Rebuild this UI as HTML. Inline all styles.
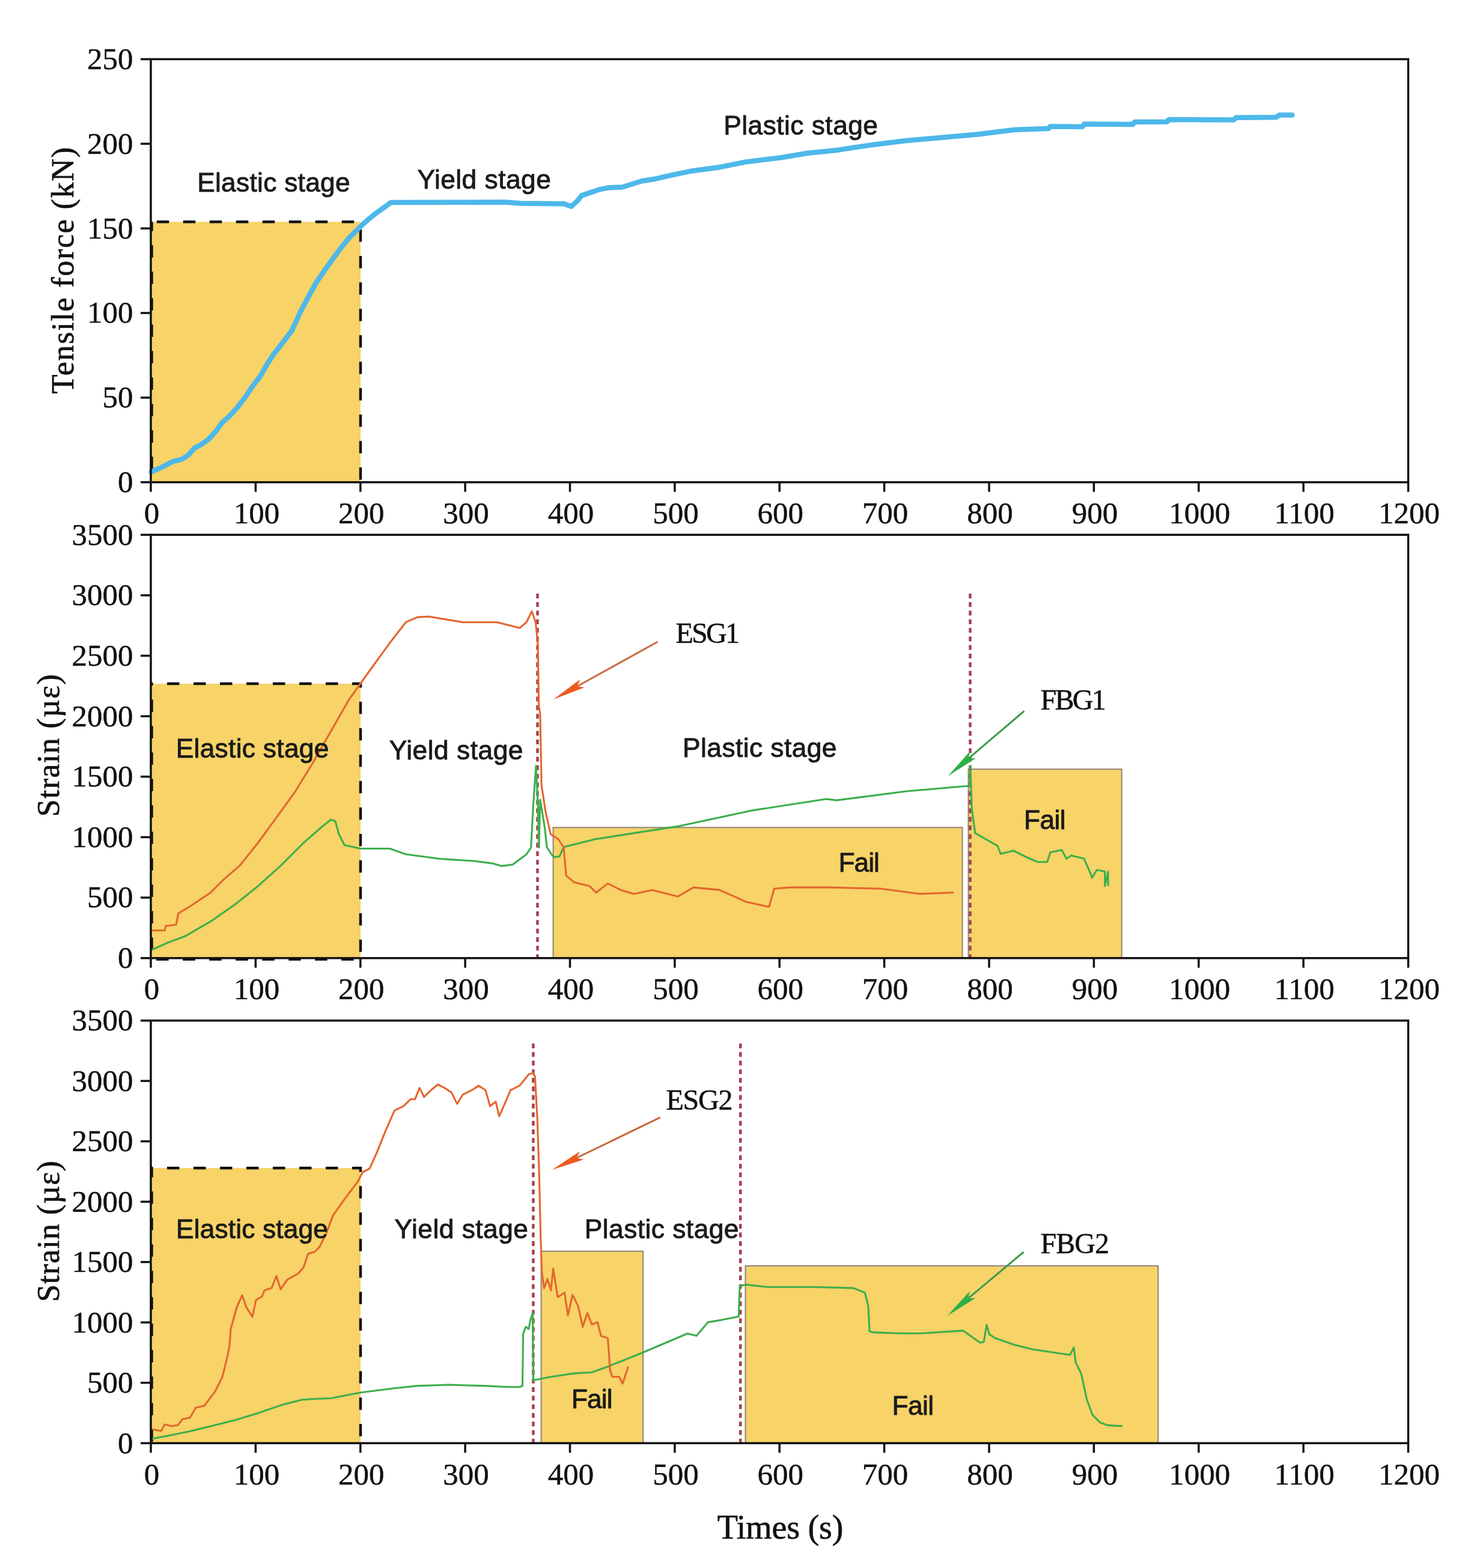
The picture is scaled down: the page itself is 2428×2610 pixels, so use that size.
<!DOCTYPE html>
<html><head><meta charset="utf-8"><title>Tensile force and strain vs time</title>
<style>html,body{margin:0;padding:0;background:#fff;}svg{display:block;}</style></head>
<body><svg width="2428" height="2610" viewBox="0 0 2428 2610">
<rect width="2428" height="2610" fill="#fff"/>
<rect x="251" y="369.3" width="349.0" height="433.4" fill="#F7D368"/>
<rect x="251" y="1138.1" width="349.0" height="456.7" fill="#F7D368"/>
<rect x="251" y="1944.2" width="349.0" height="458.0" fill="#F7D368"/>
<rect x="920.6" y="1377.4" width="680.9" height="217.4" fill="#F7D368" stroke="#8F8475" stroke-width="2"/>
<rect x="1611.5" y="1280.3" width="255.2" height="314.5" fill="#F7D368" stroke="#8F8475" stroke-width="2"/>
<rect x="900.6" y="2082.7" width="169.6" height="319.5" fill="#F7D368" stroke="#8F8475" stroke-width="2"/>
<rect x="1240.5" y="2107.1" width="686.8" height="295.1" fill="#F7D368" stroke="#8F8475" stroke-width="2"/>
<line x1="252.5" y1="369.3" x2="252.5" y2="802.7" stroke="#111" stroke-width="4.5" stroke-dasharray="20.5 23.5" stroke-dashoffset="5"/>
<path d="M251,369.3 L600,369.3 L600,802.7" fill="none" stroke="#111" stroke-width="4.5" stroke-dasharray="20.5 23.5" stroke-dashoffset="34.2"/>
<path d="M251,1138.1 L600,1138.1 L600,1596.8 L252.5,1596.8 L252.5,1138.1" fill="none" stroke="#111" stroke-width="4.5" stroke-dasharray="20.5 23.5" stroke-dashoffset="17"/>
<line x1="252.5" y1="1944.2" x2="252.5" y2="2402.2" stroke="#111" stroke-width="4.5" stroke-dasharray="20.5 23.5" stroke-dashoffset="5"/>
<path d="M251,1944.2 L600,1944.2 L600,2402.2" fill="none" stroke="#111" stroke-width="4.5" stroke-dasharray="20.5 23.5" stroke-dashoffset="17"/>
<line x1="894.5" y1="988" x2="894.5" y2="1594.8" stroke="#A8404F" stroke-width="4.5" stroke-dasharray="8 6.3"/>
<line x1="1614.5" y1="988" x2="1614.5" y2="1594.8" stroke="#A8404F" stroke-width="4.5" stroke-dasharray="8 6.3"/>
<line x1="887.4" y1="1737" x2="887.4" y2="2402.2" stroke="#A8404F" stroke-width="4.5" stroke-dasharray="8 6.3"/>
<line x1="1232.2" y1="1737" x2="1232.2" y2="2402.2" stroke="#A8404F" stroke-width="4.5" stroke-dasharray="8 6.3"/>
<polyline points="251.5,785.5 270.4,777.3 287.0,768.4 302.2,764.6 312.4,758.3 323.8,745.6 334.0,740.5 346.7,731.6 359.4,717.6 369.6,703.6 382.3,692.2 395.0,678.2 407.7,661.7 420.4,642.6 433.1,626.1 443.3,608.3 454.7,590.5 468.7,572.7 485.7,550.2 500.1,518.8 513.2,493.9 526.2,470.4 540.6,449.5 553.7,431.2 568.1,411.5 581.2,395.8 595.5,381.5 602.1,374.9 613.8,364.5 626.9,354.0 640.0,344.8 650.5,337.0 840.0,336.6 866.0,338.4 938.6,339.2 950.8,343.6 961.1,334.0 968.1,325.4 978.5,321.9 995.8,315.9 1013.0,312.4 1035.6,311.5 1054.6,305.5 1068.5,301.2 1091.0,297.7 1116.9,291.6 1150.0,284.8 1194.6,278.8 1239.2,269.9 1298.7,262.5 1343.3,255.0 1388.0,250.6 1447.4,241.6 1506.9,234.2 1566.4,229.1 1625.9,223.8 1688.1,216.0 1744.9,214.0 1747.6,210.6 1801.7,210.9 1804.4,206.5 1885.5,206.9 1888.2,203.0 1942.3,202.8 1945.0,199.0 2053.2,199.5 2057.2,195.7 2123.5,195.2 2128.9,191.6 2150.5,191.6" fill="none" stroke="#4DB8EA" stroke-width="8.5" stroke-linejoin="round" stroke-linecap="round"/>
<polyline points="253.0,1581.0 277.9,1569.6 308.2,1558.3 353.6,1531.8 391.5,1505.2 429.3,1475.0 467.2,1440.9 505.1,1403.0 535.4,1376.5 550.5,1364.4 558.1,1367.0 563.7,1387.9 573.2,1406.8 599.7,1412.5 648.9,1412.5 675.4,1422.0 732.2,1429.5 789.0,1433.3 819.3,1437.1 834.5,1441.6 853.4,1439.0 876.1,1422.0 883.7,1410.6 887.5,1338.6 892.0,1274.3 895.1,1338.6 897.0,1410.6 898.9,1331.0 906.4,1376.5 910.0,1410.0 917.8,1422.0 922.0,1427.0 931.4,1425.2 937.9,1410.0 989.8,1397.0 1128.3,1375.4 1249.4,1349.4 1374.9,1330.0 1392.2,1332.1 1509.1,1317.0 1610.8,1308.3 1614.1,1308.0 1614.7,1274.7 1617.3,1346.7 1622.7,1386.7 1660.0,1408.0 1665.3,1421.3 1686.7,1416.0 1708.0,1426.7 1726.7,1434.7 1742.7,1434.7 1748.0,1418.7 1766.7,1414.7 1774.7,1429.3 1782.7,1424.0 1804.0,1429.3 1814.7,1453.3 1817.3,1461.3 1825.3,1448.0 1838.7,1450.7 1838.7,1474.7 1844.0,1450.7 1844.0,1474.7" fill="none" stroke="#3DAE4C" stroke-width="3.1" stroke-linejoin="round"/>
<polyline points="253.3,2394.7 277.9,2390.2 315.7,2382.6 353.6,2373.2 391.5,2363.7 429.3,2352.3 467.2,2339.1 502.0,2330.0 524.0,2328.5 550.5,2327.5 599.7,2318.0 656.5,2310.7 694.4,2306.9 747.4,2305.0 808.0,2306.9 845.8,2308.8 864.8,2308.8 869.5,2306.9 870.6,2219.8 875.1,2208.4 879.9,2212.2 882.7,2197.1 886.5,2185.7 887.6,2297.4 916.8,2291.8 954.7,2286.1 985.0,2284.2 1011.5,2274.7 1068.3,2252.0 1144.0,2219.8 1159.1,2223.6 1178.1,2200.9 1200.8,2197.1 1229.2,2191.4 1231.1,2140.3 1242.4,2138.4 1276.5,2142.2 1352.2,2142.2 1420.4,2144.1 1439.3,2151.7 1445.0,2174.4 1446.9,2216.0 1454.5,2217.9 1500.0,2219.5 1531.2,2219.5 1602.9,2214.9 1631.0,2235.1 1637.2,2233.6 1641.9,2205.5 1646.6,2221.1 1656.0,2227.3 1687.1,2238.2 1718.3,2246.0 1780.7,2255.4 1787.0,2242.9 1790.1,2267.9 1799.4,2286.6 1808.8,2330.3 1818.2,2355.2 1830.6,2367.7 1843.1,2372.4 1868.0,2373.9" fill="none" stroke="#3DAE4C" stroke-width="3.1" stroke-linejoin="round"/>
<polyline points="253.0,1548.8 274.1,1548.8 276.0,1541.2 293.0,1539.3 296.8,1520.4 315.7,1509.0 349.8,1486.3 372.5,1463.6 399.0,1440.9 429.3,1403.0 459.6,1361.4 489.9,1319.7 520.2,1270.5 550.5,1217.5 580.8,1164.5 599.7,1138.0 618.6,1111.5 648.9,1069.8 675.4,1035.7 694.4,1027.4 713.3,1026.3 770.1,1035.7 826.9,1035.7 864.8,1045.2 876.1,1035.7 885.0,1017.5 891.3,1035.7 892.5,1046.5 895.1,1073.6 896.8,1176.4 898.9,1187.2 901.1,1306.2 907.6,1349.4 916.3,1388.4 929.2,1397.0 937.9,1410.0 942.2,1457.6 955.2,1468.4 981.2,1474.9 992.0,1485.7 1011.4,1470.6 1033.1,1481.4 1054.7,1487.9 1085.0,1481.4 1128.3,1492.2 1154.2,1477.1 1197.5,1481.4 1240.8,1500.9 1279.7,1509.5 1288.4,1479.3 1314.3,1477.1 1379.3,1477.1 1465.8,1479.3 1530.7,1487.9 1587.0,1485.7" fill="none" stroke="#E4662E" stroke-width="3.1" stroke-linejoin="round"/>
<polyline points="254.0,2379.0 268.0,2382.0 274.0,2371.0 286.0,2374.0 296.0,2372.0 304.0,2362.0 316.0,2360.0 326.0,2343.0 340.0,2340.0 358.0,2316.0 370.0,2292.0 378.0,2260.0 382.0,2240.0 384.0,2212.0 394.0,2176.0 403.0,2156.0 410.0,2176.0 420.0,2192.0 426.0,2164.0 436.0,2158.0 440.0,2148.0 452.0,2144.0 460.0,2124.0 467.0,2146.0 478.0,2130.0 496.0,2120.0 505.0,2110.0 512.6,2087.3 524.0,2083.5 531.6,2075.9 542.9,2053.2 554.3,2022.9 573.2,1996.4 595.9,1966.1 603.5,1951.0 614.9,1945.3 626.2,1920.7 641.4,1882.8 656.5,1848.7 671.6,1841.2 683.0,1829.8 690.6,1829.8 698.2,1810.9 705.7,1826.0 717.1,1814.7 728.4,1805.2 739.8,1810.9 751.2,1818.4 760.6,1837.4 770.1,1822.2 785.2,1814.7 796.6,1807.1 808.0,1814.7 815.5,1841.2 825.0,1833.6 830.7,1858.2 838.2,1841.2 849.6,1814.7 864.8,1807.1 879.9,1788.2 887.3,1786.3 890.3,1791.9 894.1,1860.1 897.1,1947.2 899.8,2060.8 901.7,2117.6 905.4,2144.1 911.1,2128.9 916.8,2147.9 920.6,2111.9 928.2,2159.2 939.5,2151.7 945.2,2189.5 952.8,2155.4 962.2,2174.4 969.8,2208.4 977.4,2185.7 985.0,2204.7 994.4,2200.9 1000.1,2223.6 1011.5,2227.4 1015.2,2280.4 1019.0,2291.8 1030.4,2291.8 1036.1,2303.1 1045.5,2274.7" fill="none" stroke="#E4662E" stroke-width="3.1" stroke-linejoin="round"/>
<line x1="1094.5" y1="1068.3" x2="960.3" y2="1142.5" stroke="#C8673C" stroke-width="3"/>
<polygon points="920.8,1164.3 965.3,1131.1 960.3,1142.5 972.6,1144.3" fill="#EE5A1E"/>
<line x1="1099.0" y1="1859.8" x2="959.3" y2="1927.5" stroke="#C8673C" stroke-width="3"/>
<polygon points="918.7,1947.2 964.9,1916.5 959.3,1927.5 971.5,1930.0" fill="#EE5A1E"/>
<line x1="1704.5" y1="1183.5" x2="1611.6" y2="1262.7" stroke="#3D9A50" stroke-width="3"/>
<polygon points="1577.3,1292.0 1614.3,1250.6 1611.6,1262.7 1624.0,1262.0" fill="#2DB045"/>
<line x1="1703.5" y1="2084.0" x2="1611.0" y2="2161.3" stroke="#3D9A50" stroke-width="3"/>
<polygon points="1576.4,2190.2 1613.8,2149.2 1611.0,2161.3 1623.4,2160.7" fill="#2DB045"/>
<rect x="251.0" y="98.5" width="2092.5" height="704.2" fill="none" stroke="#111111" stroke-width="3.5"/>
<line x1="251.0" y1="802.7" x2="251.0" y2="818.7" stroke="#111111" stroke-width="3.5"/>
<text x="252.5" y="871.2" font-family="'Liberation Serif', 'Times New Roman', serif" font-size="51" text-anchor="middle" fill="#111" stroke="#111" stroke-width="0.45">0</text>
<line x1="425.4" y1="802.7" x2="425.4" y2="818.7" stroke="#111111" stroke-width="3.5"/>
<text x="426.9" y="871.2" font-family="'Liberation Serif', 'Times New Roman', serif" font-size="51" text-anchor="middle" fill="#111" stroke="#111" stroke-width="0.45">100</text>
<line x1="599.8" y1="802.7" x2="599.8" y2="818.7" stroke="#111111" stroke-width="3.5"/>
<text x="601.2" y="871.2" font-family="'Liberation Serif', 'Times New Roman', serif" font-size="51" text-anchor="middle" fill="#111" stroke="#111" stroke-width="0.45">200</text>
<line x1="774.1" y1="802.7" x2="774.1" y2="818.7" stroke="#111111" stroke-width="3.5"/>
<text x="775.6" y="871.2" font-family="'Liberation Serif', 'Times New Roman', serif" font-size="51" text-anchor="middle" fill="#111" stroke="#111" stroke-width="0.45">300</text>
<line x1="948.5" y1="802.7" x2="948.5" y2="818.7" stroke="#111111" stroke-width="3.5"/>
<text x="950.0" y="871.2" font-family="'Liberation Serif', 'Times New Roman', serif" font-size="51" text-anchor="middle" fill="#111" stroke="#111" stroke-width="0.45">400</text>
<line x1="1122.9" y1="802.7" x2="1122.9" y2="818.7" stroke="#111111" stroke-width="3.5"/>
<text x="1124.4" y="871.2" font-family="'Liberation Serif', 'Times New Roman', serif" font-size="51" text-anchor="middle" fill="#111" stroke="#111" stroke-width="0.45">500</text>
<line x1="1297.2" y1="802.7" x2="1297.2" y2="818.7" stroke="#111111" stroke-width="3.5"/>
<text x="1298.8" y="871.2" font-family="'Liberation Serif', 'Times New Roman', serif" font-size="51" text-anchor="middle" fill="#111" stroke="#111" stroke-width="0.45">600</text>
<line x1="1471.6" y1="802.7" x2="1471.6" y2="818.7" stroke="#111111" stroke-width="3.5"/>
<text x="1473.1" y="871.2" font-family="'Liberation Serif', 'Times New Roman', serif" font-size="51" text-anchor="middle" fill="#111" stroke="#111" stroke-width="0.45">700</text>
<line x1="1646.0" y1="802.7" x2="1646.0" y2="818.7" stroke="#111111" stroke-width="3.5"/>
<text x="1647.5" y="871.2" font-family="'Liberation Serif', 'Times New Roman', serif" font-size="51" text-anchor="middle" fill="#111" stroke="#111" stroke-width="0.45">800</text>
<line x1="1820.4" y1="802.7" x2="1820.4" y2="818.7" stroke="#111111" stroke-width="3.5"/>
<text x="1821.9" y="871.2" font-family="'Liberation Serif', 'Times New Roman', serif" font-size="51" text-anchor="middle" fill="#111" stroke="#111" stroke-width="0.45">900</text>
<line x1="1994.8" y1="802.7" x2="1994.8" y2="818.7" stroke="#111111" stroke-width="3.5"/>
<text x="1996.2" y="871.2" font-family="'Liberation Serif', 'Times New Roman', serif" font-size="51" text-anchor="middle" fill="#111" stroke="#111" stroke-width="0.45">1000</text>
<line x1="2169.1" y1="802.7" x2="2169.1" y2="818.7" stroke="#111111" stroke-width="3.5"/>
<text x="2170.6" y="871.2" font-family="'Liberation Serif', 'Times New Roman', serif" font-size="51" text-anchor="middle" fill="#111" stroke="#111" stroke-width="0.45">1100</text>
<line x1="2343.5" y1="802.7" x2="2343.5" y2="818.7" stroke="#111111" stroke-width="3.5"/>
<text x="2345.0" y="871.2" font-family="'Liberation Serif', 'Times New Roman', serif" font-size="51" text-anchor="middle" fill="#111" stroke="#111" stroke-width="0.45">1200</text>
<line x1="234.0" y1="802.7" x2="251.0" y2="802.7" stroke="#111111" stroke-width="3.5"/>
<text x="221.5" y="819.0" font-family="'Liberation Serif', 'Times New Roman', serif" font-size="51" text-anchor="end" fill="#111" stroke="#111" stroke-width="0.45">0</text>
<line x1="234.0" y1="661.9" x2="251.0" y2="661.9" stroke="#111111" stroke-width="3.5"/>
<text x="221.5" y="678.2" font-family="'Liberation Serif', 'Times New Roman', serif" font-size="51" text-anchor="end" fill="#111" stroke="#111" stroke-width="0.45">50</text>
<line x1="234.0" y1="521.0" x2="251.0" y2="521.0" stroke="#111111" stroke-width="3.5"/>
<text x="221.5" y="537.3" font-family="'Liberation Serif', 'Times New Roman', serif" font-size="51" text-anchor="end" fill="#111" stroke="#111" stroke-width="0.45">100</text>
<line x1="234.0" y1="380.2" x2="251.0" y2="380.2" stroke="#111111" stroke-width="3.5"/>
<text x="221.5" y="396.5" font-family="'Liberation Serif', 'Times New Roman', serif" font-size="51" text-anchor="end" fill="#111" stroke="#111" stroke-width="0.45">150</text>
<line x1="234.0" y1="239.3" x2="251.0" y2="239.3" stroke="#111111" stroke-width="3.5"/>
<text x="221.5" y="255.6" font-family="'Liberation Serif', 'Times New Roman', serif" font-size="51" text-anchor="end" fill="#111" stroke="#111" stroke-width="0.45">200</text>
<line x1="234.0" y1="98.5" x2="251.0" y2="98.5" stroke="#111111" stroke-width="3.5"/>
<text x="221.5" y="114.8" font-family="'Liberation Serif', 'Times New Roman', serif" font-size="51" text-anchor="end" fill="#111" stroke="#111" stroke-width="0.45">250</text>
<rect x="251.0" y="890.2" width="2092.5" height="704.6" fill="none" stroke="#111111" stroke-width="3.5"/>
<line x1="251.0" y1="1594.8" x2="251.0" y2="1610.8" stroke="#111111" stroke-width="3.5"/>
<text x="252.5" y="1663.3" font-family="'Liberation Serif', 'Times New Roman', serif" font-size="51" text-anchor="middle" fill="#111" stroke="#111" stroke-width="0.45">0</text>
<line x1="425.4" y1="1594.8" x2="425.4" y2="1610.8" stroke="#111111" stroke-width="3.5"/>
<text x="426.9" y="1663.3" font-family="'Liberation Serif', 'Times New Roman', serif" font-size="51" text-anchor="middle" fill="#111" stroke="#111" stroke-width="0.45">100</text>
<line x1="599.8" y1="1594.8" x2="599.8" y2="1610.8" stroke="#111111" stroke-width="3.5"/>
<text x="601.2" y="1663.3" font-family="'Liberation Serif', 'Times New Roman', serif" font-size="51" text-anchor="middle" fill="#111" stroke="#111" stroke-width="0.45">200</text>
<line x1="774.1" y1="1594.8" x2="774.1" y2="1610.8" stroke="#111111" stroke-width="3.5"/>
<text x="775.6" y="1663.3" font-family="'Liberation Serif', 'Times New Roman', serif" font-size="51" text-anchor="middle" fill="#111" stroke="#111" stroke-width="0.45">300</text>
<line x1="948.5" y1="1594.8" x2="948.5" y2="1610.8" stroke="#111111" stroke-width="3.5"/>
<text x="950.0" y="1663.3" font-family="'Liberation Serif', 'Times New Roman', serif" font-size="51" text-anchor="middle" fill="#111" stroke="#111" stroke-width="0.45">400</text>
<line x1="1122.9" y1="1594.8" x2="1122.9" y2="1610.8" stroke="#111111" stroke-width="3.5"/>
<text x="1124.4" y="1663.3" font-family="'Liberation Serif', 'Times New Roman', serif" font-size="51" text-anchor="middle" fill="#111" stroke="#111" stroke-width="0.45">500</text>
<line x1="1297.2" y1="1594.8" x2="1297.2" y2="1610.8" stroke="#111111" stroke-width="3.5"/>
<text x="1298.8" y="1663.3" font-family="'Liberation Serif', 'Times New Roman', serif" font-size="51" text-anchor="middle" fill="#111" stroke="#111" stroke-width="0.45">600</text>
<line x1="1471.6" y1="1594.8" x2="1471.6" y2="1610.8" stroke="#111111" stroke-width="3.5"/>
<text x="1473.1" y="1663.3" font-family="'Liberation Serif', 'Times New Roman', serif" font-size="51" text-anchor="middle" fill="#111" stroke="#111" stroke-width="0.45">700</text>
<line x1="1646.0" y1="1594.8" x2="1646.0" y2="1610.8" stroke="#111111" stroke-width="3.5"/>
<text x="1647.5" y="1663.3" font-family="'Liberation Serif', 'Times New Roman', serif" font-size="51" text-anchor="middle" fill="#111" stroke="#111" stroke-width="0.45">800</text>
<line x1="1820.4" y1="1594.8" x2="1820.4" y2="1610.8" stroke="#111111" stroke-width="3.5"/>
<text x="1821.9" y="1663.3" font-family="'Liberation Serif', 'Times New Roman', serif" font-size="51" text-anchor="middle" fill="#111" stroke="#111" stroke-width="0.45">900</text>
<line x1="1994.8" y1="1594.8" x2="1994.8" y2="1610.8" stroke="#111111" stroke-width="3.5"/>
<text x="1996.2" y="1663.3" font-family="'Liberation Serif', 'Times New Roman', serif" font-size="51" text-anchor="middle" fill="#111" stroke="#111" stroke-width="0.45">1000</text>
<line x1="2169.1" y1="1594.8" x2="2169.1" y2="1610.8" stroke="#111111" stroke-width="3.5"/>
<text x="2170.6" y="1663.3" font-family="'Liberation Serif', 'Times New Roman', serif" font-size="51" text-anchor="middle" fill="#111" stroke="#111" stroke-width="0.45">1100</text>
<line x1="2343.5" y1="1594.8" x2="2343.5" y2="1610.8" stroke="#111111" stroke-width="3.5"/>
<text x="2345.0" y="1663.3" font-family="'Liberation Serif', 'Times New Roman', serif" font-size="51" text-anchor="middle" fill="#111" stroke="#111" stroke-width="0.45">1200</text>
<line x1="234.0" y1="1594.8" x2="251.0" y2="1594.8" stroke="#111111" stroke-width="3.5"/>
<text x="221.5" y="1611.1" font-family="'Liberation Serif', 'Times New Roman', serif" font-size="51" text-anchor="end" fill="#111" stroke="#111" stroke-width="0.45">0</text>
<line x1="234.0" y1="1494.1" x2="251.0" y2="1494.1" stroke="#111111" stroke-width="3.5"/>
<text x="221.5" y="1510.4" font-family="'Liberation Serif', 'Times New Roman', serif" font-size="51" text-anchor="end" fill="#111" stroke="#111" stroke-width="0.45">500</text>
<line x1="234.0" y1="1393.5" x2="251.0" y2="1393.5" stroke="#111111" stroke-width="3.5"/>
<text x="221.5" y="1409.8" font-family="'Liberation Serif', 'Times New Roman', serif" font-size="51" text-anchor="end" fill="#111" stroke="#111" stroke-width="0.45">1000</text>
<line x1="234.0" y1="1292.8" x2="251.0" y2="1292.8" stroke="#111111" stroke-width="3.5"/>
<text x="221.5" y="1309.1" font-family="'Liberation Serif', 'Times New Roman', serif" font-size="51" text-anchor="end" fill="#111" stroke="#111" stroke-width="0.45">1500</text>
<line x1="234.0" y1="1192.2" x2="251.0" y2="1192.2" stroke="#111111" stroke-width="3.5"/>
<text x="221.5" y="1208.5" font-family="'Liberation Serif', 'Times New Roman', serif" font-size="51" text-anchor="end" fill="#111" stroke="#111" stroke-width="0.45">2000</text>
<line x1="234.0" y1="1091.5" x2="251.0" y2="1091.5" stroke="#111111" stroke-width="3.5"/>
<text x="221.5" y="1107.8" font-family="'Liberation Serif', 'Times New Roman', serif" font-size="51" text-anchor="end" fill="#111" stroke="#111" stroke-width="0.45">2500</text>
<line x1="234.0" y1="990.9" x2="251.0" y2="990.9" stroke="#111111" stroke-width="3.5"/>
<text x="221.5" y="1007.2" font-family="'Liberation Serif', 'Times New Roman', serif" font-size="51" text-anchor="end" fill="#111" stroke="#111" stroke-width="0.45">3000</text>
<line x1="234.0" y1="890.2" x2="251.0" y2="890.2" stroke="#111111" stroke-width="3.5"/>
<text x="221.5" y="906.5" font-family="'Liberation Serif', 'Times New Roman', serif" font-size="51" text-anchor="end" fill="#111" stroke="#111" stroke-width="0.45">3500</text>
<rect x="251.0" y="1698.8" width="2092.5" height="703.4" fill="none" stroke="#111111" stroke-width="3.5"/>
<line x1="251.0" y1="2402.2" x2="251.0" y2="2418.2" stroke="#111111" stroke-width="3.5"/>
<text x="252.5" y="2470.7" font-family="'Liberation Serif', 'Times New Roman', serif" font-size="51" text-anchor="middle" fill="#111" stroke="#111" stroke-width="0.45">0</text>
<line x1="425.4" y1="2402.2" x2="425.4" y2="2418.2" stroke="#111111" stroke-width="3.5"/>
<text x="426.9" y="2470.7" font-family="'Liberation Serif', 'Times New Roman', serif" font-size="51" text-anchor="middle" fill="#111" stroke="#111" stroke-width="0.45">100</text>
<line x1="599.8" y1="2402.2" x2="599.8" y2="2418.2" stroke="#111111" stroke-width="3.5"/>
<text x="601.2" y="2470.7" font-family="'Liberation Serif', 'Times New Roman', serif" font-size="51" text-anchor="middle" fill="#111" stroke="#111" stroke-width="0.45">200</text>
<line x1="774.1" y1="2402.2" x2="774.1" y2="2418.2" stroke="#111111" stroke-width="3.5"/>
<text x="775.6" y="2470.7" font-family="'Liberation Serif', 'Times New Roman', serif" font-size="51" text-anchor="middle" fill="#111" stroke="#111" stroke-width="0.45">300</text>
<line x1="948.5" y1="2402.2" x2="948.5" y2="2418.2" stroke="#111111" stroke-width="3.5"/>
<text x="950.0" y="2470.7" font-family="'Liberation Serif', 'Times New Roman', serif" font-size="51" text-anchor="middle" fill="#111" stroke="#111" stroke-width="0.45">400</text>
<line x1="1122.9" y1="2402.2" x2="1122.9" y2="2418.2" stroke="#111111" stroke-width="3.5"/>
<text x="1124.4" y="2470.7" font-family="'Liberation Serif', 'Times New Roman', serif" font-size="51" text-anchor="middle" fill="#111" stroke="#111" stroke-width="0.45">500</text>
<line x1="1297.2" y1="2402.2" x2="1297.2" y2="2418.2" stroke="#111111" stroke-width="3.5"/>
<text x="1298.8" y="2470.7" font-family="'Liberation Serif', 'Times New Roman', serif" font-size="51" text-anchor="middle" fill="#111" stroke="#111" stroke-width="0.45">600</text>
<line x1="1471.6" y1="2402.2" x2="1471.6" y2="2418.2" stroke="#111111" stroke-width="3.5"/>
<text x="1473.1" y="2470.7" font-family="'Liberation Serif', 'Times New Roman', serif" font-size="51" text-anchor="middle" fill="#111" stroke="#111" stroke-width="0.45">700</text>
<line x1="1646.0" y1="2402.2" x2="1646.0" y2="2418.2" stroke="#111111" stroke-width="3.5"/>
<text x="1647.5" y="2470.7" font-family="'Liberation Serif', 'Times New Roman', serif" font-size="51" text-anchor="middle" fill="#111" stroke="#111" stroke-width="0.45">800</text>
<line x1="1820.4" y1="2402.2" x2="1820.4" y2="2418.2" stroke="#111111" stroke-width="3.5"/>
<text x="1821.9" y="2470.7" font-family="'Liberation Serif', 'Times New Roman', serif" font-size="51" text-anchor="middle" fill="#111" stroke="#111" stroke-width="0.45">900</text>
<line x1="1994.8" y1="2402.2" x2="1994.8" y2="2418.2" stroke="#111111" stroke-width="3.5"/>
<text x="1996.2" y="2470.7" font-family="'Liberation Serif', 'Times New Roman', serif" font-size="51" text-anchor="middle" fill="#111" stroke="#111" stroke-width="0.45">1000</text>
<line x1="2169.1" y1="2402.2" x2="2169.1" y2="2418.2" stroke="#111111" stroke-width="3.5"/>
<text x="2170.6" y="2470.7" font-family="'Liberation Serif', 'Times New Roman', serif" font-size="51" text-anchor="middle" fill="#111" stroke="#111" stroke-width="0.45">1100</text>
<line x1="2343.5" y1="2402.2" x2="2343.5" y2="2418.2" stroke="#111111" stroke-width="3.5"/>
<text x="2345.0" y="2470.7" font-family="'Liberation Serif', 'Times New Roman', serif" font-size="51" text-anchor="middle" fill="#111" stroke="#111" stroke-width="0.45">1200</text>
<line x1="234.0" y1="2402.2" x2="251.0" y2="2402.2" stroke="#111111" stroke-width="3.5"/>
<text x="221.5" y="2418.5" font-family="'Liberation Serif', 'Times New Roman', serif" font-size="51" text-anchor="end" fill="#111" stroke="#111" stroke-width="0.45">0</text>
<line x1="234.0" y1="2301.7" x2="251.0" y2="2301.7" stroke="#111111" stroke-width="3.5"/>
<text x="221.5" y="2318.0" font-family="'Liberation Serif', 'Times New Roman', serif" font-size="51" text-anchor="end" fill="#111" stroke="#111" stroke-width="0.45">500</text>
<line x1="234.0" y1="2201.2" x2="251.0" y2="2201.2" stroke="#111111" stroke-width="3.5"/>
<text x="221.5" y="2217.5" font-family="'Liberation Serif', 'Times New Roman', serif" font-size="51" text-anchor="end" fill="#111" stroke="#111" stroke-width="0.45">1000</text>
<line x1="234.0" y1="2100.7" x2="251.0" y2="2100.7" stroke="#111111" stroke-width="3.5"/>
<text x="221.5" y="2117.0" font-family="'Liberation Serif', 'Times New Roman', serif" font-size="51" text-anchor="end" fill="#111" stroke="#111" stroke-width="0.45">1500</text>
<line x1="234.0" y1="2000.3" x2="251.0" y2="2000.3" stroke="#111111" stroke-width="3.5"/>
<text x="221.5" y="2016.6" font-family="'Liberation Serif', 'Times New Roman', serif" font-size="51" text-anchor="end" fill="#111" stroke="#111" stroke-width="0.45">2000</text>
<line x1="234.0" y1="1899.8" x2="251.0" y2="1899.8" stroke="#111111" stroke-width="3.5"/>
<text x="221.5" y="1916.1" font-family="'Liberation Serif', 'Times New Roman', serif" font-size="51" text-anchor="end" fill="#111" stroke="#111" stroke-width="0.45">2500</text>
<line x1="234.0" y1="1799.3" x2="251.0" y2="1799.3" stroke="#111111" stroke-width="3.5"/>
<text x="221.5" y="1815.6" font-family="'Liberation Serif', 'Times New Roman', serif" font-size="51" text-anchor="end" fill="#111" stroke="#111" stroke-width="0.45">3000</text>
<line x1="234.0" y1="1698.8" x2="251.0" y2="1698.8" stroke="#111111" stroke-width="3.5"/>
<text x="221.5" y="1715.1" font-family="'Liberation Serif', 'Times New Roman', serif" font-size="51" text-anchor="end" fill="#111" stroke="#111" stroke-width="0.45">3500</text>
<text transform="translate(121.5,450.2) rotate(-90)" x="0" y="0" font-family="'Liberation Serif', 'Times New Roman', serif" font-size="52" text-anchor="middle" textLength="410" fill="#111" stroke="#111" stroke-width="0.7">Tensile force (kN)</text>
<text transform="translate(97.5,1240.9) rotate(-90)" x="0" y="0" font-family="'Liberation Serif', 'Times New Roman', serif" font-size="52" text-anchor="middle" textLength="237" fill="#111" stroke="#111" stroke-width="0.7">Strain (µε)</text>
<text transform="translate(98.4,2049.7) rotate(-90)" x="0" y="0" font-family="'Liberation Serif', 'Times New Roman', serif" font-size="52" text-anchor="middle" textLength="234.5" fill="#111" stroke="#111" stroke-width="0.7">Strain (µε)</text>
<text x="1298.5" y="2560.5" font-family="'Liberation Serif', 'Times New Roman', serif" font-size="56" text-anchor="middle" textLength="209.7" fill="#111" stroke="#111" stroke-width="0.7">Times (s)</text>
<text x="328.2" y="318.7" font-family="'Liberation Sans', Arial, sans-serif" font-size="44.3" textLength="254.4" fill="#1a1a1a" stroke="#1a1a1a" stroke-width="0.9">Elastic stage</text>
<text x="694.5" y="313.6" font-family="'Liberation Sans', Arial, sans-serif" font-size="44.3" textLength="222.3" fill="#1a1a1a" stroke="#1a1a1a" stroke-width="0.9">Yield stage</text>
<text x="1204.2" y="223.5" font-family="'Liberation Sans', Arial, sans-serif" font-size="44.3" textLength="256.8" fill="#1a1a1a" stroke="#1a1a1a" stroke-width="0.9">Plastic stage</text>
<text x="292.7" y="1260.5" font-family="'Liberation Sans', Arial, sans-serif" font-size="44.3" textLength="254.7" fill="#1a1a1a" stroke="#1a1a1a" stroke-width="0.9">Elastic stage</text>
<text x="647.7" y="1263.5" font-family="'Liberation Sans', Arial, sans-serif" font-size="44.3" textLength="222.8" fill="#1a1a1a" stroke="#1a1a1a" stroke-width="0.9">Yield stage</text>
<text x="1136.1" y="1260.0" font-family="'Liberation Sans', Arial, sans-serif" font-size="44.3" textLength="256.3" fill="#1a1a1a" stroke="#1a1a1a" stroke-width="0.9">Plastic stage</text>
<text x="1395.4" y="1450.8" font-family="'Liberation Sans', Arial, sans-serif" font-size="44.3" textLength="68.5" fill="#1a1a1a" stroke="#1a1a1a" stroke-width="0.9">Fail</text>
<text x="1703.9" y="1380.4" font-family="'Liberation Sans', Arial, sans-serif" font-size="44.3" textLength="69.8" fill="#1a1a1a" stroke="#1a1a1a" stroke-width="0.9">Fail</text>
<text x="293.1" y="2061.0" font-family="'Liberation Sans', Arial, sans-serif" font-size="44.3" textLength="252.8" fill="#1a1a1a" stroke="#1a1a1a" stroke-width="0.9">Elastic stage</text>
<text x="656.6" y="2061.0" font-family="'Liberation Sans', Arial, sans-serif" font-size="44.3" textLength="222.4" fill="#1a1a1a" stroke="#1a1a1a" stroke-width="0.9">Yield stage</text>
<text x="972.7" y="2061.0" font-family="'Liberation Sans', Arial, sans-serif" font-size="44.3" textLength="256.8" fill="#1a1a1a" stroke="#1a1a1a" stroke-width="0.9">Plastic stage</text>
<text x="950.9" y="2344.3" font-family="'Liberation Sans', Arial, sans-serif" font-size="44.3" textLength="68.7" fill="#1a1a1a" stroke="#1a1a1a" stroke-width="0.9">Fail</text>
<text x="1484.6" y="2355.3" font-family="'Liberation Sans', Arial, sans-serif" font-size="44.3" textLength="69.5" fill="#1a1a1a" stroke="#1a1a1a" stroke-width="0.9">Fail</text>
<text x="1124.5" y="1069.5" font-family="'Liberation Serif', 'Times New Roman', serif" font-size="48" textLength="106.4" fill="#111" stroke="#111" stroke-width="0.5">ESG1</text>
<text x="1731.5" y="1181.0" font-family="'Liberation Serif', 'Times New Roman', serif" font-size="48" textLength="109.2" fill="#111" stroke="#111" stroke-width="0.5">FBG1</text>
<text x="1108.4" y="1847.0" font-family="'Liberation Serif', 'Times New Roman', serif" font-size="48" textLength="111.1" fill="#111" stroke="#111" stroke-width="0.5">ESG2</text>
<text x="1731.5" y="2086.0" font-family="'Liberation Serif', 'Times New Roman', serif" font-size="48" textLength="114.6" fill="#111" stroke="#111" stroke-width="0.5">FBG2</text>
</svg></body></html>
